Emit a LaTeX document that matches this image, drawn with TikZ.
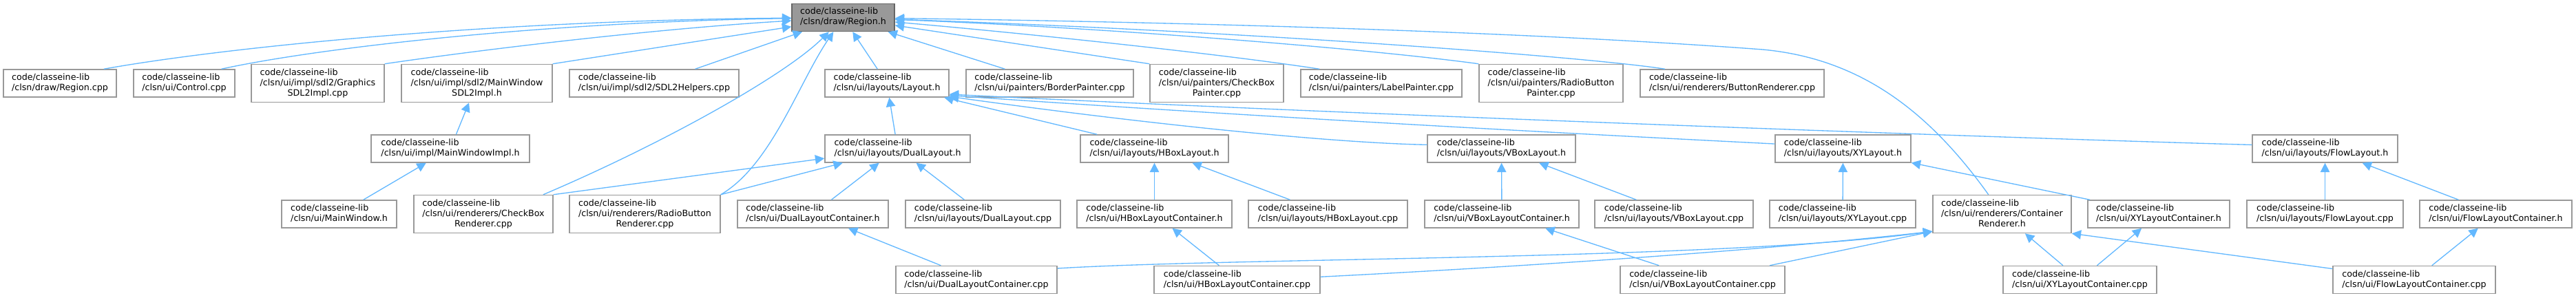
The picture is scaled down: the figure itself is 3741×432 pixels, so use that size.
\documentclass[tikz,border=0pt]{standalone}
\usepackage{fontspec}
\newfontfamily\dejavu{DejaVu Sans}
\usepackage{xcolor}
\usepackage{tikz}
\usetikzlibrary{arrows.meta}

\definecolor{inclblue}{HTML}{63B8FF}
\definecolor{boxgray}{HTML}{999999}
\definecolor{curgray}{HTML}{666666}

% two-line and three-line file labels
\newcommand{\flab}[1]{\begin{tabular}{@{}l@{}}code/classeine-lib\\#1\end{tabular}}
\newcommand{\flabc}[2]{\begin{tabular}{@{}l@{}}code/classeine-lib\\#1\\\multicolumn{1}{@{}c@{}}{#2}\end{tabular}}

\begin{document}
\begin{tikzpicture}[
  x=0.75pt, y=-0.75pt,
  file/.style={rectangle, draw=boxgray, line width=1.1pt, fill=white,
               inner xsep=2pt, inner ysep=0pt, minimum height=30pt,
               font=\dejavu\fontsize{9.5}{11.25}\selectfont, text=black},
  tall/.style={minimum height=41.25pt},
  bw/.style={minimum width=#1*0.75pt},
  cur/.style={file, draw=curgray, fill=boxgray},
  incl/.style={draw=inclblue, line width=1pt, -{Triangle[length=10pt, width=10pt]}}
]
\useasboundingbox (0,0) rectangle (3741,432);

%% The file itself
\node[cur, bw=149] (reg) at (1224.5,25.5) {\flab{/clsn/draw/Region.h}};

%% Row 2
\node[file, bw=164] (rcpp) at (87,121) {\flab{/clsn/draw/Region.cpp}};
\node[file, bw=147] (ctrl) at (267.5,121) {\flab{/clsn/ui/Control.cpp}};
\node[file, tall, bw=193] (gfx) at (461.5,121) {\flabc{/clsn/ui/impl/sdl2/Graphics}{SDL2Impl.cpp}};
\node[file, tall, bw=219] (mwsdl) at (692.5,121) {\flabc{/clsn/ui/impl/sdl2/MainWindow}{SDL2Impl.h}};
\node[file, bw=246] (sdlh) at (950,121) {\flab{/clsn/ui/impl/sdl2/SDL2Helpers.cpp}};
\node[file, bw=180] (lay) at (1288,121) {\flab{/clsn/ui/layouts/Layout.h}};
\node[file, bw=243] (bord) at (1524.5,121) {\flab{/clsn/ui/painters/BorderPainter.cpp}};
\node[file, tall, bw=194] (cbp) at (1767,121) {\flabc{/clsn/ui/painters/CheckBox}{Painter.cpp}};
\node[file, bw=234] (lbp) at (2006,121) {\flab{/clsn/ui/painters/LabelPainter.cpp}};
\node[file, tall, bw=209] (rbp) at (2252.5,121) {\flabc{/clsn/ui/painters/RadioButton}{Painter.cpp}};
\node[file, bw=267] (btnr) at (2515.5,121) {\flab{/clsn/ui/renderers/ButtonRenderer.cpp}};

%% Row 3
\node[file, bw=230] (mwi) at (654,216) {\flab{/clsn/ui/impl/MainWindowImpl.h}};
\node[file, bw=211] (dual) at (1303.5,216) {\flab{/clsn/ui/layouts/DualLayout.h}};
\node[file, bw=215] (hbox) at (1676.5,216) {\flab{/clsn/ui/layouts/HBoxLayout.h}};
\node[file, bw=215] (vbox) at (2180.5,216) {\flab{/clsn/ui/layouts/VBoxLayout.h}};
\node[file, bw=197] (xy) at (2676.5,216) {\flab{/clsn/ui/layouts/XYLayout.h}};
\node[file, bw=211] (flow) at (3376.5,216) {\flab{/clsn/ui/layouts/FlowLayout.h}};

%% Row 4
\node[file, bw=167] (mw) at (492.5,311) {\flab{/clsn/ui/MainWindow.h}};
\node[file, tall, bw=202] (cbr) at (702,311) {\flabc{/clsn/ui/renderers/CheckBox}{Renderer.cpp}};
\node[file, tall, bw=219] (rbr) at (936.5,311) {\flabc{/clsn/ui/renderers/RadioButton}{Renderer.cpp}};
\node[file, bw=219] (dlch) at (1180.5,311) {\flab{/clsn/ui/DualLayoutContainer.h}};
\node[file, bw=225] (dlcpp) at (1427.5,311) {\flab{/clsn/ui/layouts/DualLayout.cpp}};
\node[file, bw=225] (hbch) at (1676.5,311) {\flab{/clsn/ui/HBoxLayoutContainer.h}};
\node[file, bw=231] (hbcpp) at (1928.5,311) {\flab{/clsn/ui/layouts/HBoxLayout.cpp}};
\node[file, bw=224] (vbch) at (2181,311) {\flab{/clsn/ui/VBoxLayoutContainer.h}};
\node[file, bw=230] (vbcpp) at (2431,311) {\flab{/clsn/ui/layouts/VBoxLayout.cpp}};
\node[file, bw=212] (xycpp) at (2676,311) {\flab{/clsn/ui/layouts/XYLayout.cpp}};
\node[file, tall, bw=201] (crh) at (2907.5,311) {\flabc{/clsn/ui/renderers/Container}{Renderer.h}};
\node[file, bw=206] (xych) at (3135,311) {\flab{/clsn/ui/XYLayoutContainer.h}};
\node[file, bw=227] (flcpp) at (3376.5,311) {\flab{/clsn/ui/layouts/FlowLayout.cpp}};
\node[file, bw=221] (flch) at (3624.5,311) {\flab{/clsn/ui/FlowLayoutContainer.h}};

%% Row 5
\node[file, bw=234] (dlcc) at (1418,406.5) {\flab{/clsn/ui/DualLayoutContainer.cpp}};
\node[file, bw=241] (hbcc) at (1796.5,406.5) {\flab{/clsn/ui/HBoxLayoutContainer.cpp}};
\node[file, bw=239] (vbcc) at (2472.5,406.5) {\flab{/clsn/ui/VBoxLayoutContainer.cpp}};
\node[file, bw=223] (xycc) at (3020.5,406.5) {\flab{/clsn/ui/XYLayoutContainer.cpp}};
\node[file, bw=236] (flcc) at (3506,406.5) {\flab{/clsn/ui/FlowLayoutContainer.cpp}};

%% Includes of Region.h
\draw[incl] (rcpp.18) .. controls (320,70) and (700,30) .. (reg);
\draw[incl] (ctrl.21) .. controls (470,68) and (800,32) .. (reg);
\draw[incl] (gfx.north east) .. controls (700,72) and (950,42) .. (reg);
\draw[incl] (mwsdl.north east) -- (reg.190);
\draw[incl] (sdlh) -- (reg);
\draw[incl] (cbr.18) .. controls (960,210) and (1140,110) .. (reg);
\draw[incl] (rbr.north east) .. controls (1120,240) and (1160,120) .. (reg);
\draw[incl] (lay) -- (reg);
\draw[incl] (bord) -- (reg);
\draw[incl] (cbp.north west) -- (reg);
\draw[incl] (lbp.167) .. controls (1750,75) and (1450,45) .. (reg);
\draw[incl] (rbp.north west) .. controls (1980,70) and (1600,40) .. (reg);
\draw[incl] (btnr.168) .. controls (2300,82) and (1800,45) .. (reg);
\draw[incl] (crh.125) .. controls (2800,160) and (2700,85) .. (2560,72)
  .. controls (2200,45) and (1700,32) .. (reg);

%% Main window chain
\draw[incl] (mwi) -- (mwsdl);
\draw[incl] (mw) -- (mwi);

%% Layouts
\draw[incl] (dual) -- (lay);
\draw[incl] (hbox.166) -- (lay.-14);
\draw[incl] (vbox.177) .. controls (1950,208) and (1700,185) .. (lay.-12);
\draw[incl] (xy.176) .. controls (2400,200) and (1900,175) .. (lay.-11);
\draw[incl] (flow.177) .. controls (2900,200) and (2000,168) .. (lay.-10);

\draw[incl] (cbr.north east) -- (dual);
\draw[incl] (rbr.north east) -- (dual);
\draw[incl] (dlch) -- (dual);
\draw[incl] (dlcpp) -- (dual);
\draw[incl] (dlcc) -- (dlch);

\draw[incl] (hbch) -- (hbox);
\draw[incl] (hbcpp) -- (hbox);
\draw[incl] (hbcc) -- (hbch);

\draw[incl] (vbch) -- (vbox);
\draw[incl] (vbcpp) -- (vbox);
\draw[incl] (vbcc) -- (vbch);

\draw[incl] (xycpp) -- (xy);
\draw[incl] (xych) -- (xy);
\draw[incl] (xycc) -- (xych);

\draw[incl] (flcpp) -- (flow);
\draw[incl] (flch) -- (flow);
\draw[incl] (flcc) -- (flch);

%% Container renderer
\draw[incl] (dlcc.8) .. controls (1800,374) and (2500,378) .. (crh.194);
\draw[incl] (hbcc.2) .. controls (2200,388) and (2550,365) .. (crh.194);
\draw[incl] (vbcc.12) -- (crh.194);
\draw[incl] (xycc) -- (crh);
\draw[incl] (flcc) -- (crh.south east);
\end{tikzpicture}
\end{document}
